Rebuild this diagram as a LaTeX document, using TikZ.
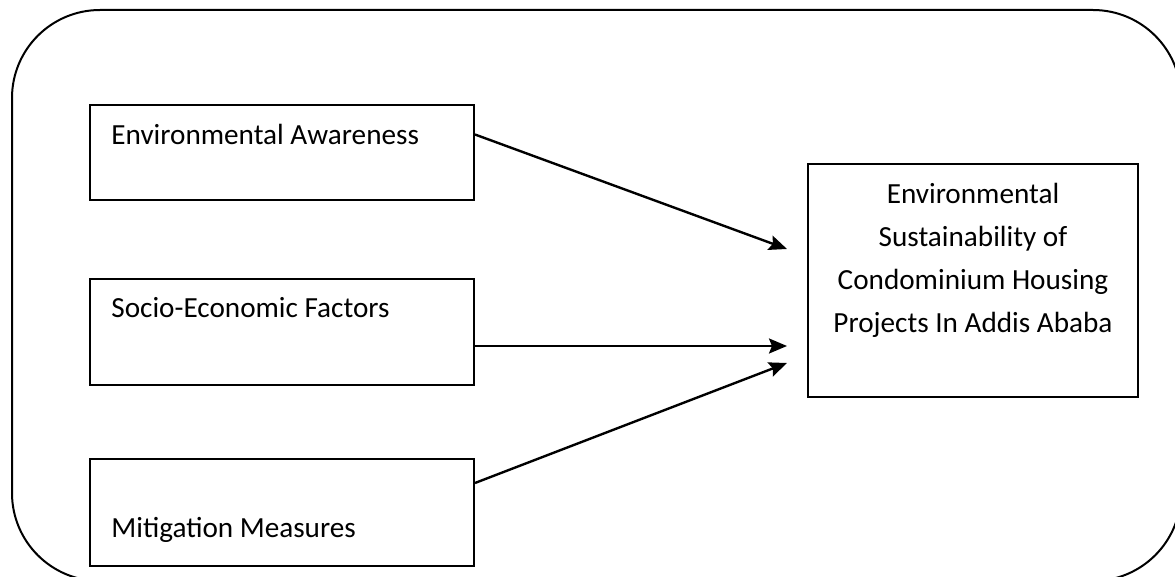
\documentclass[tikz,border=0pt]{standalone}
\usepackage{fontspec}
\setmainfont{Carlito}
\usetikzlibrary{arrows.meta}

\begin{document}
\begin{tikzpicture}[x=0.5pt, y=-0.5pt,
        box/.style={draw, line width=1pt, minimum width=192pt, inner sep=0pt},
        txt/.style={inner sep=0pt, font=\fontsize{14.6}{21.5}\selectfont},
        link/.style={line width=1.2pt, -{Stealth[length=9pt, width=7.5pt, inset=1.5pt]}}]
        \useasboundingbox (0,0) rectangle (1175,577);
        \clip (0,0) rectangle (1175,577);
        \draw[line width=1pt, rounded corners=44pt] (12,10) rectangle (1181,581);

        \node[box, minimum height=47.5pt] (aware) at (282,152.5) {};
        \node[box, minimum height=53pt] (socio) at (282,332) {};
        \node[box, minimum height=53.5pt] (mitig) at (282,512.5) {};
        \node[box, minimum width=165pt, minimum height=116.5pt] (goal) at (973,280.5) {};

        \node[txt, anchor=base west] (awaretxt) at ([xshift=11pt, yshift=-20.5pt]aware.north west) {Environmental Awareness};
        \node[txt, anchor=base west] (sociotxt) at ([xshift=11pt, yshift=-20pt]socio.north west) {Socio-Economic Factors};
        \node[txt, anchor=base west] (mitigtxt) at ([xshift=11pt, yshift=14.5pt]mitig.south west) {Mitigation Measures};
        \node[txt, align=center] (goaltxt) at ([yshift=10.25pt]goal.center) {Environmental\\ Sustainability of\\ Condominium Housing\\ Projects In Addis Ababa};

        \coordinate (in1) at (787,249);
        \coordinate (in2) at (787,346);
        \coordinate (in3) at (787,363);

        \draw[link] ([yshift=9pt]aware.east) -- (in1);
        \draw[link] ([yshift=-7pt]socio.east) -- (in2);
        \draw[link] ([yshift=14.75pt]mitig.east) -- (in3);
\end{tikzpicture}
\end{document}
